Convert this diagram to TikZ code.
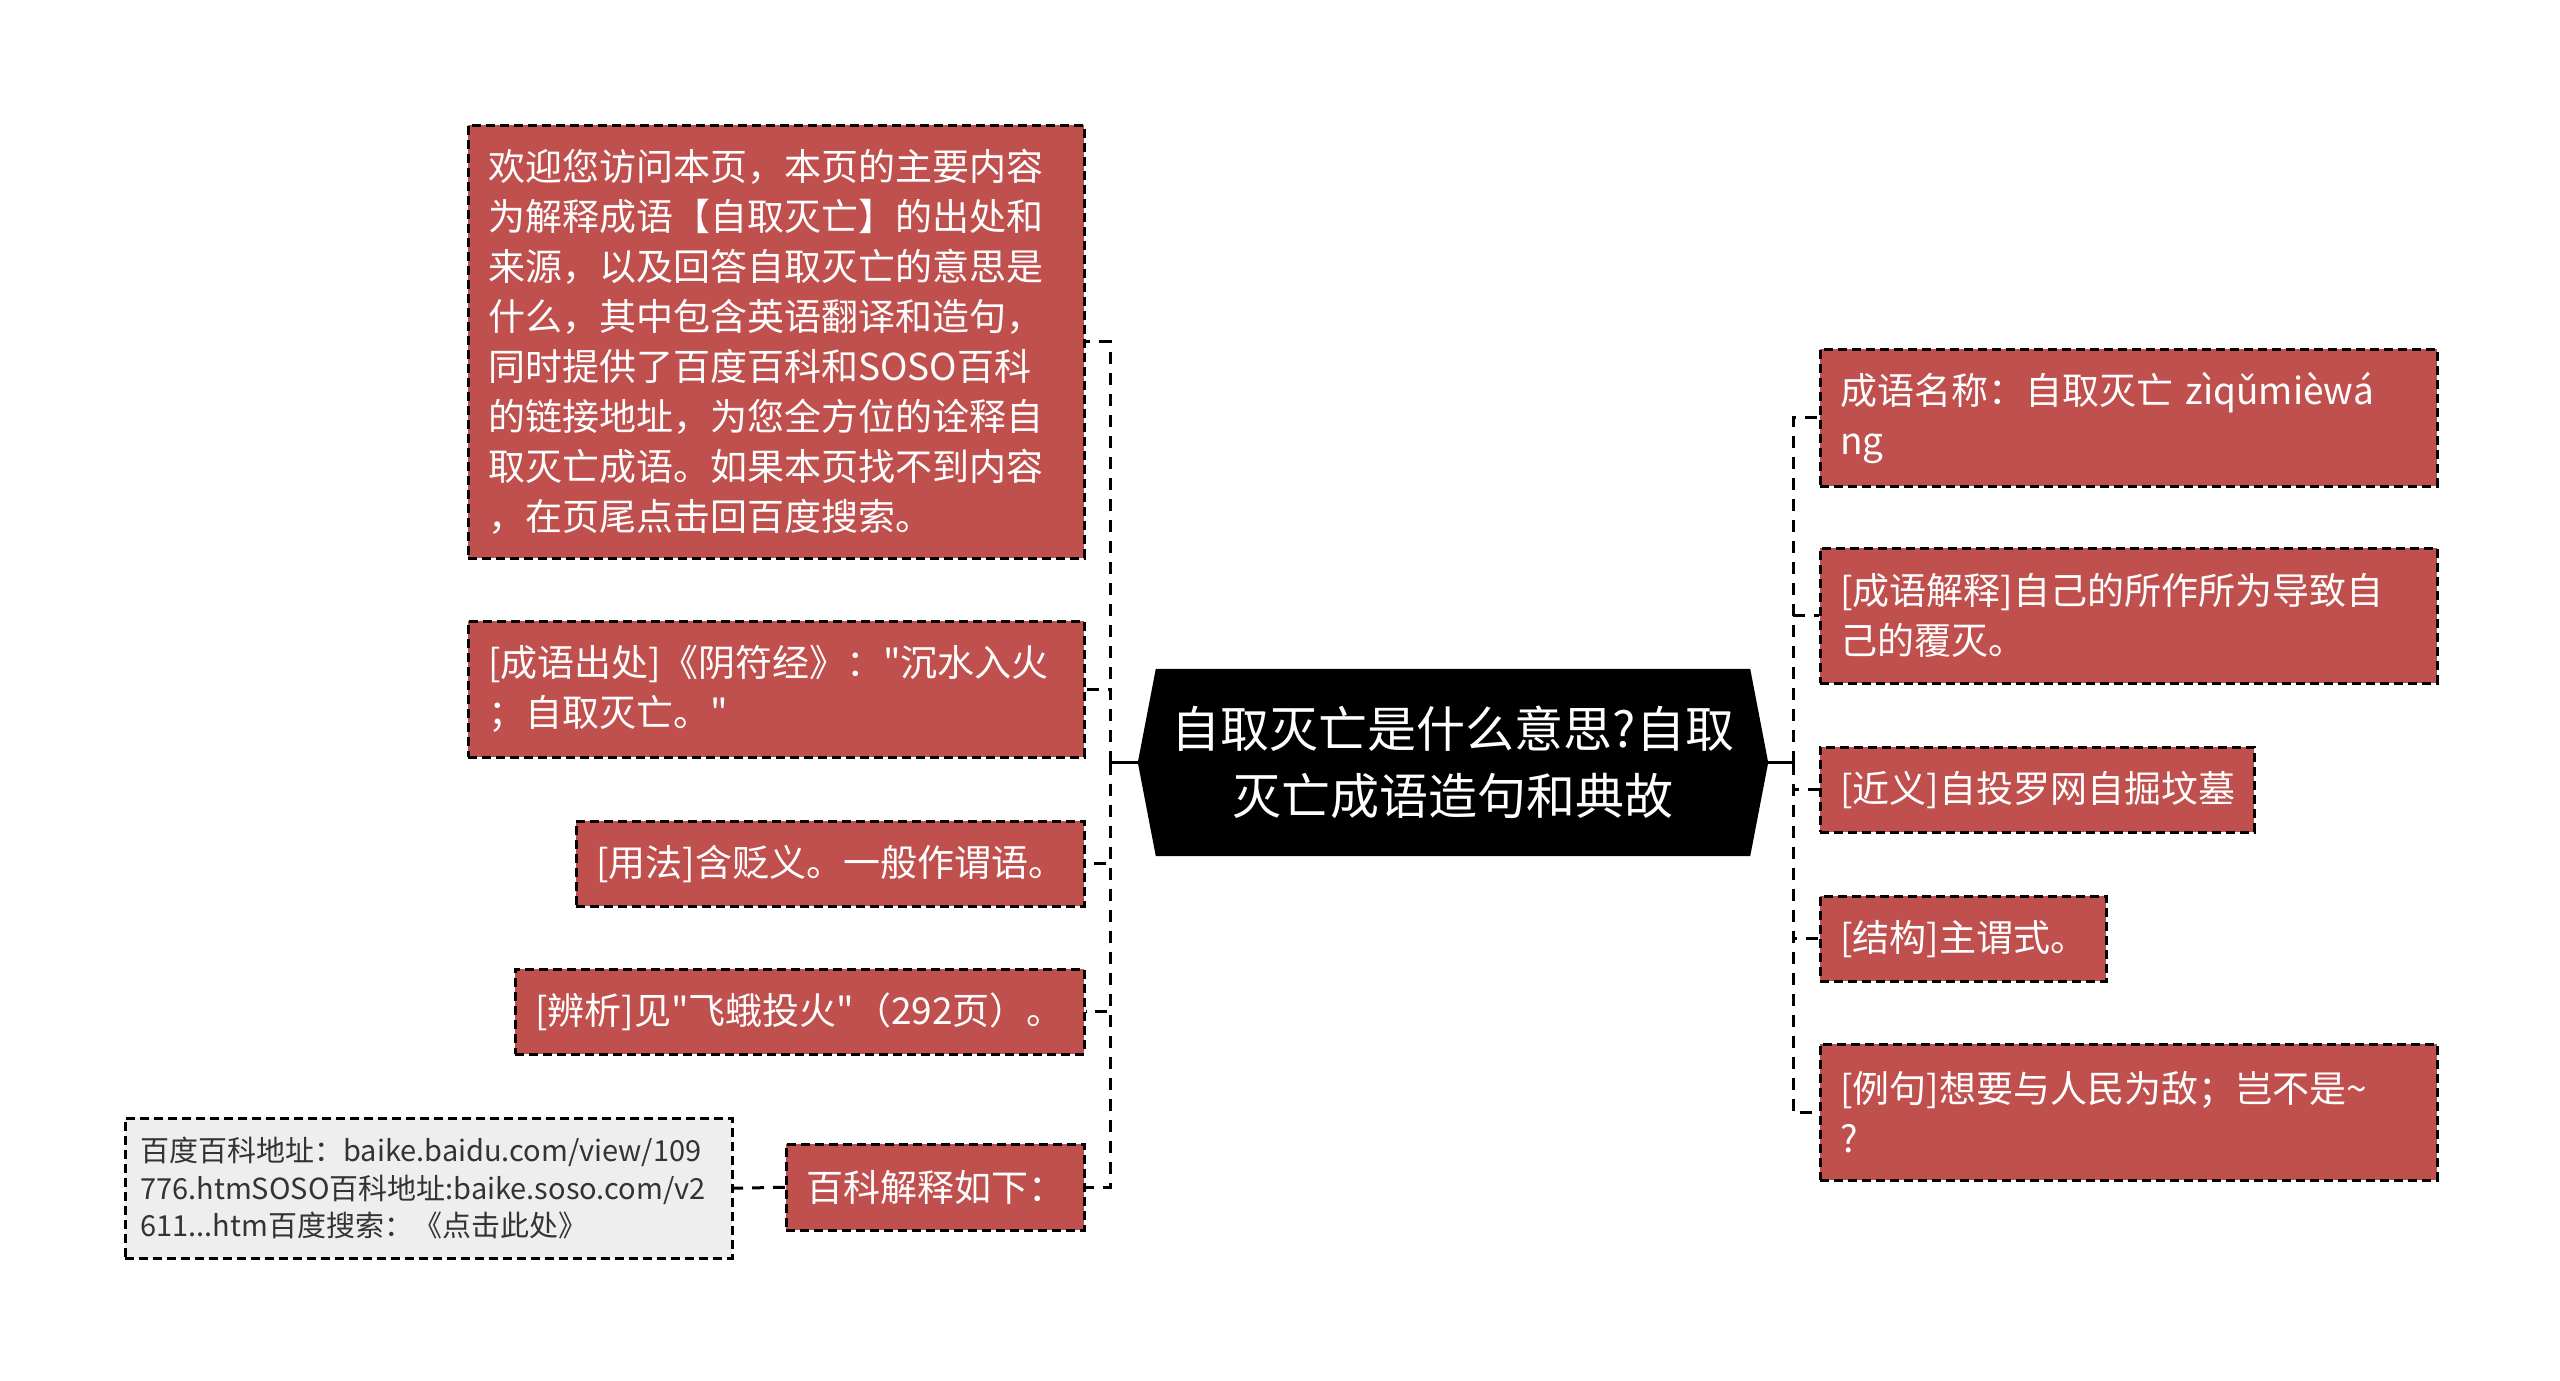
\documentclass[tikz,border=0pt]{standalone}
\usepackage{fontspec}
\setmainfont{Noto Sans CJK SC}
\newfontfamily\cjkfont{Noto Sans CJK SC}
\usetikzlibrary{calc}
\definecolor{boxred}{HTML}{C0504D}
\definecolor{graybg}{HTML}{EEEEEE}
\definecolor{graytxt}{HTML}{333333}
\begin{document}
\begin{tikzpicture}[x=1pt,y=-1pt,
  redbox/.style={draw=black, line width=2.5pt, dash pattern=on 9pt off 5pt,
    fill=boxred, text=white, inner xsep=20pt, inner ysep=0pt,
    anchor=north west, align=left, font=\cjkfont\fontsize{37}{50}\selectfont},
  graybox/.style={draw=black, line width=2.5pt, dash pattern=on 9pt off 5pt,
    fill=graybg, text=graytxt, inner xsep=15pt, inner ysep=0pt,
    anchor=north west, align=left, font=\cjkfont\fontsize{29}{37.5}\selectfont},
  conn/.style={draw=black, line width=3pt, dash pattern=on 12pt off 9pt},
  solidconn/.style={draw=black, line width=3pt},
  centertext/.style={text=white, align=center, inner sep=0pt,
    font=\cjkfont\fontsize{49}{67}\selectfont}]
\fill[white] (0,0) rectangle (2560,1381);
\useasboundingbox (0,0) rectangle (2560,1381);

% central topic
\node[minimum width=594pt, minimum height=187pt, inner sep=0pt] (c) at (1453,762.5) {};
\fill[black] (c.north west) -- (c.north east) -- ($(c.east)+(18,0)$) -- (c.south east)
  -- (c.south west) -- ($(c.west)+(-18,0)$) -- cycle;
\node[centertext] (ct) at (c) {自取灭亡是什么意思?自取\\灭亡成语造句和典故};
\coordinate (cw) at ($(c.west)+(-18,0)$);
\coordinate (ce) at ($(c.east)+(18,0)$);
\coordinate (lsp) at (1110,762.5);
\coordinate (rsp) at (1793,762.5);

% left children
\node[redbox, text width=576pt, minimum height=433pt] (b1) at (467,124)
  {欢迎您访问本页，本页的主要内容\\为解释成语【自取灭亡】的出处和\\来源，以及回答自取灭亡的意思是\\什么，其中包含英语翻译和造句，\\同时提供了百度百科和SOSO百科\\的链接地址，为您全方位的诠释自\\取灭亡成语。如果本页找不到内容\\，在页尾点击回百度搜索。};
\node[redbox, text width=576pt, minimum height=136pt] (b2) at (467,620)
  {[成语出处]《阴符经》："沉水入火\\；自取灭亡。"};
\node[redbox, text width=468pt, minimum height=85pt] (b3) at (575,820)
  {[用法]含贬义。一般作谓语。};
\node[redbox, text width=529pt, minimum height=85pt] (b4) at (514,968)
  {[辨析]见"飞蛾投火"（292页）。};
\node[redbox, text width=258pt, minimum height=86pt] (b5) at (785,1143)
  {百科解释如下：};
\node[graybox, text width=577pt, minimum height=140pt] (g1) at (124,1117)
  {百度百科地址：baike.baidu.com/view/109\\776.htmSOSO百科地址:baike.soso.com/v2\\611...htm百度搜索：《点击此处》};

% right children
\node[redbox, text width=577pt, minimum height=137pt] (r1) at (1819,348)
  {成语名称：自取灭亡~zìqǔmièwá\\ng};
\node[redbox, text width=577pt, minimum height=135pt] (r2) at (1819,547)
  {[成语解释]自己的所作所为导致自\\己的覆灭。};
\node[redbox, text width=394pt, minimum height=85pt] (r3) at (1819,746)
  {[近义]自投罗网自掘坟墓};
\node[redbox, text width=246pt, minimum height=85pt] (r4) at (1819,895)
  {[结构]主谓式。};
\node[redbox, text width=577pt, minimum height=136pt] (r5) at (1819,1043)
  {[例句]想要与人民为敌；岂不是\textasciitilde\\?};

% connectors
\draw[solidconn] (cw) -- (lsp);
\draw[solidconn] (ce) -- (rsp);
\foreach \n in {b1,b2,b3,b4,b5} {\draw[conn] (lsp) |- (\n.east);}
\foreach \n in {r1,r2,r3,r4,r5} {\draw[conn] (rsp) |- (\n.west);}
\draw[conn] (b5.west) -- (g1.east);
\end{tikzpicture}
\end{document}
